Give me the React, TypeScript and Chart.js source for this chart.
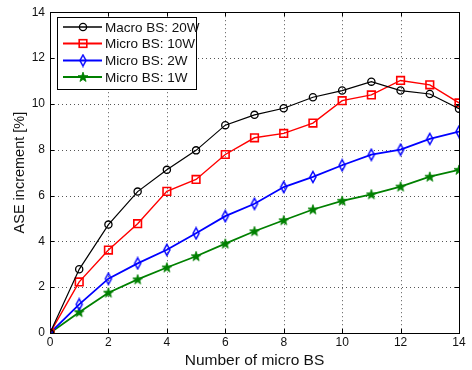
import React, { useEffect, useRef } from "react";
import { Chart, registerables } from "chart.js";

Chart.register(...registerables);

const xValues = [0, 1, 2, 3, 4, 5, 6, 7, 8, 9, 10, 11, 12, 13, 14];
const macro20W = [0, 2.78, 4.73, 6.17, 7.12, 7.97, 9.07, 9.52, 9.81, 10.29, 10.58, 10.97, 10.58, 10.43, 9.79];
const micro10W = [0, 2.23, 3.62, 4.77, 6.18, 6.7, 7.79, 8.52, 8.71, 9.16, 10.14, 10.39, 11.02, 10.83, 10.04];
const micro2W = [0, 1.25, 2.37, 3.04, 3.63, 4.35, 5.1, 5.64, 6.37, 6.81, 7.32, 7.78, 8.0, 8.47, 8.79];
const micro1W = [0, 0.91, 1.76, 2.34, 2.86, 3.35, 3.9, 4.44, 4.92, 5.39, 5.77, 6.05, 6.39, 6.82, 7.12];
const seriesLabels = ["Macro BS: 20W", "Micro BS: 10W", "Micro BS: 2W", "Micro BS: 1W"];
const xTicks = [0, 2, 4, 6, 8, 10, 12, 14];
const yTicks = [0, 2, 4, 6, 8, 10, 12, 14];

const FONT = "'Liberation Sans', Arial, sans-serif";

function makeDiamond(color: string): HTMLCanvasElement {
  const c = document.createElement("canvas");
  c.width = 10;
  c.height = 14;
  const ctx = c.getContext("2d")!;
  ctx.strokeStyle = color;
  ctx.lineWidth = 1.5;
  ctx.beginPath();
  ctx.moveTo(5, 1.5);
  ctx.lineTo(8, 7);
  ctx.lineTo(5, 12.5);
  ctx.lineTo(2, 7);
  ctx.closePath();
  ctx.stroke();
  return c;
}

function makeStar(color: string): HTMLCanvasElement {
  const c = document.createElement("canvas");
  c.width = 12;
  c.height = 12;
  const ctx = c.getContext("2d")!;
  ctx.fillStyle = color;
  ctx.strokeStyle = color;
  ctx.lineWidth = 0.8;
  ctx.beginPath();
  const cx = 6, cy = 6.3, ro = 5.2, ri = 2.1;
  for (let i = 0; i < 10; i++) {
    const r = i % 2 === 0 ? ro : ri;
    const a = -Math.PI / 2 + (i * Math.PI) / 5;
    const px = cx + r * Math.cos(a);
    const py = cy + r * Math.sin(a);
    if (i === 0) ctx.moveTo(px, py);
    else ctx.lineTo(px, py);
  }
  ctx.closePath();
  ctx.fill();
  ctx.stroke();
  return c;
}

export default function App() {
  const ref = useRef<HTMLCanvasElement | null>(null);

  useEffect(() => {
    document.body.style.margin = "0";
    const canvas = ref.current!;
    const diamond = makeDiamond("#0000ff");
    const star = makeStar("#008000");

    const mk = (vals: number[]) => vals.map((v, i) => ({ x: xValues[i], y: v }));

    const datasets: any[] = [
      {
        label: seriesLabels[0],
        data: mk(macro20W),
        borderColor: "#000000",
        borderWidth: 1.2,
        pointStyle: "circle",
        pointRadius: 3.6,
        pointBorderWidth: 1.3,
        pointBackgroundColor: "rgba(0,0,0,0)",
        pointBorderColor: "#000000",
      },
      {
        label: seriesLabels[1],
        data: mk(micro10W),
        borderColor: "#ff0000",
        borderWidth: 1.4,
        pointStyle: "rect",
        pointRadius: 5.4,
        pointBorderWidth: 1.6,
        pointBackgroundColor: "rgba(0,0,0,0)",
        pointBorderColor: "#ff0000",
      },
      {
        label: seriesLabels[2],
        data: mk(micro2W),
        borderColor: "#0000ff",
        borderWidth: 1.8,
        pointStyle: diamond,
        pointRadius: 5,
        pointBorderColor: "#0000ff",
      },
      {
        label: seriesLabels[3],
        data: mk(micro1W),
        borderColor: "#008000",
        borderWidth: 1.8,
        pointStyle: star,
        pointRadius: 5,
        pointBorderColor: "#008000",
      },
    ];

    const framePlugin = {
      id: "frame",
      beforeDatasetsDraw(chart: any) {
        const { ctx, chartArea: a, scales } = chart;
        ctx.save();
        // dotted grid
        ctx.strokeStyle = "#555";
        ctx.lineWidth = 1;
        ctx.setLineDash([1, 3]);
        ctx.beginPath();
        for (const t of xTicks) {
          const px = Math.round(scales.x.getPixelForValue(t)) + 0.5;
          ctx.moveTo(px, a.top);
          ctx.lineTo(px, a.bottom);
        }
        for (const t of yTicks) {
          const py = Math.round(scales.y.getPixelForValue(t)) + 0.5;
          ctx.moveTo(a.left, py);
          ctx.lineTo(a.right, py);
        }
        ctx.stroke();
        ctx.setLineDash([]);
        // frame
        ctx.strokeStyle = "#000";
        ctx.strokeRect(Math.round(a.left) + 0.5, Math.round(a.top) + 0.5, Math.round(a.right - a.left), Math.round(a.bottom - a.top));
        ctx.beginPath();
        const tl = 4;
        for (const t of xTicks) {
          const px = Math.round(scales.x.getPixelForValue(t)) + 0.5;
          ctx.moveTo(px, a.bottom);
          ctx.lineTo(px, a.bottom - tl);
          ctx.moveTo(px, a.top);
          ctx.lineTo(px, a.top + tl);
        }
        for (const t of yTicks) {
          const py = Math.round(scales.y.getPixelForValue(t)) + 0.5;
          ctx.moveTo(a.left, py);
          ctx.lineTo(a.left + tl, py);
          ctx.moveTo(a.right, py);
          ctx.lineTo(a.right - tl, py);
        }
        ctx.stroke();
        ctx.restore();
      },
      afterDraw(chart: any) {
        const { ctx } = chart;
        ctx.save();
        const bx = 57.5, by = 17.5, bw = 139, bh = 72;
        ctx.fillStyle = "#fff";
        ctx.fillRect(bx, by, bw, bh);
        ctx.strokeStyle = "#000";
        ctx.lineWidth = 1;
        ctx.strokeRect(bx, by, bw, bh);
        const rows = [27, 43.5, 60.5, 77];
        ctx.font = `13.5px ${FONT}`;
        ctx.textBaseline = "middle";
        ctx.textAlign = "left";
        datasets.forEach((ds, i) => {
          const y = rows[i];
          ctx.strokeStyle = ds.borderColor;
          ctx.lineWidth = ds.borderWidth + 0.4;
          ctx.beginPath();
          ctx.moveTo(63, y);
          ctx.lineTo(102, y);
          ctx.stroke();
          const mx = 83;
          if (ds.pointStyle === "circle") {
            ctx.lineWidth = 1.3;
            ctx.beginPath();
            ctx.arc(mx, y, 3.6, 0, Math.PI * 2);
            ctx.stroke();
          } else if (ds.pointStyle === "rect") {
            ctx.lineWidth = 1.6;
            ctx.strokeRect(mx - 3.8, y - 3.8, 7.6, 7.6);
          } else {
            const img = ds.pointStyle as HTMLCanvasElement;
            ctx.drawImage(img, mx - img.width / 2, y - img.height / 2);
          }
          ctx.fillStyle = "#111";
          ctx.fillText(ds.label, 105, y + 1);
        });
        ctx.restore();
      },
    };

    const chart = new Chart(canvas, {
      type: "line",
      data: { datasets },
      options: {
        animation: false,
        responsive: false,
        maintainAspectRatio: false,
        layout: { padding: { left: 0, right: 13, top: 10, bottom: 0 } },
        plugins: {
          legend: { display: false },
          tooltip: { enabled: false },
        },
        scales: {
          x: {
            type: "linear",
            min: 0,
            max: 14,
            afterBuildTicks: (s: any) => {
              s.ticks = xTicks.map((v) => ({ value: v }));
            },
            afterFit: (s: any) => {
              s.height = 37;
            },
            grid: { display: false, drawTicks: false },
            border: { display: false },
            ticks: {
              padding: 2,
              color: "#111",
              font: { family: FONT, size: 12 },
              maxRotation: 0,
            },
            title: {
              display: true,
              text: "Number of micro BS",
              color: "#111",
              font: { family: FONT, size: 15.5 },
              padding: { top: 0, bottom: 0 },
            },
          },
          y: {
            type: "linear",
            min: 0,
            max: 14,
            afterBuildTicks: (s: any) => {
              s.ticks = yTicks.map((v) => ({ value: v }));
            },
            afterFit: (s: any) => {
              s.width = 50;
            },
            grid: { display: false, drawTicks: false },
            border: { display: false },
            ticks: {
              padding: 5,
              color: "#111",
              font: { family: FONT, size: 12 },
            },
            title: {
              display: true,
              text: "ASE increment [%]",
              color: "#111",
              font: { family: FONT, size: 14.5 },
              padding: { top: 11, bottom: 0 },
            },
          },
        },
      } as any,
      plugins: [framePlugin],
    });

    return () => chart.destroy();
  }, []);

  return (
    <div style={{ width: 472, height: 370 }}>
      <canvas ref={ref} width={472} height={370} style={{ display: "block" }} />
    </div>
  );
}
